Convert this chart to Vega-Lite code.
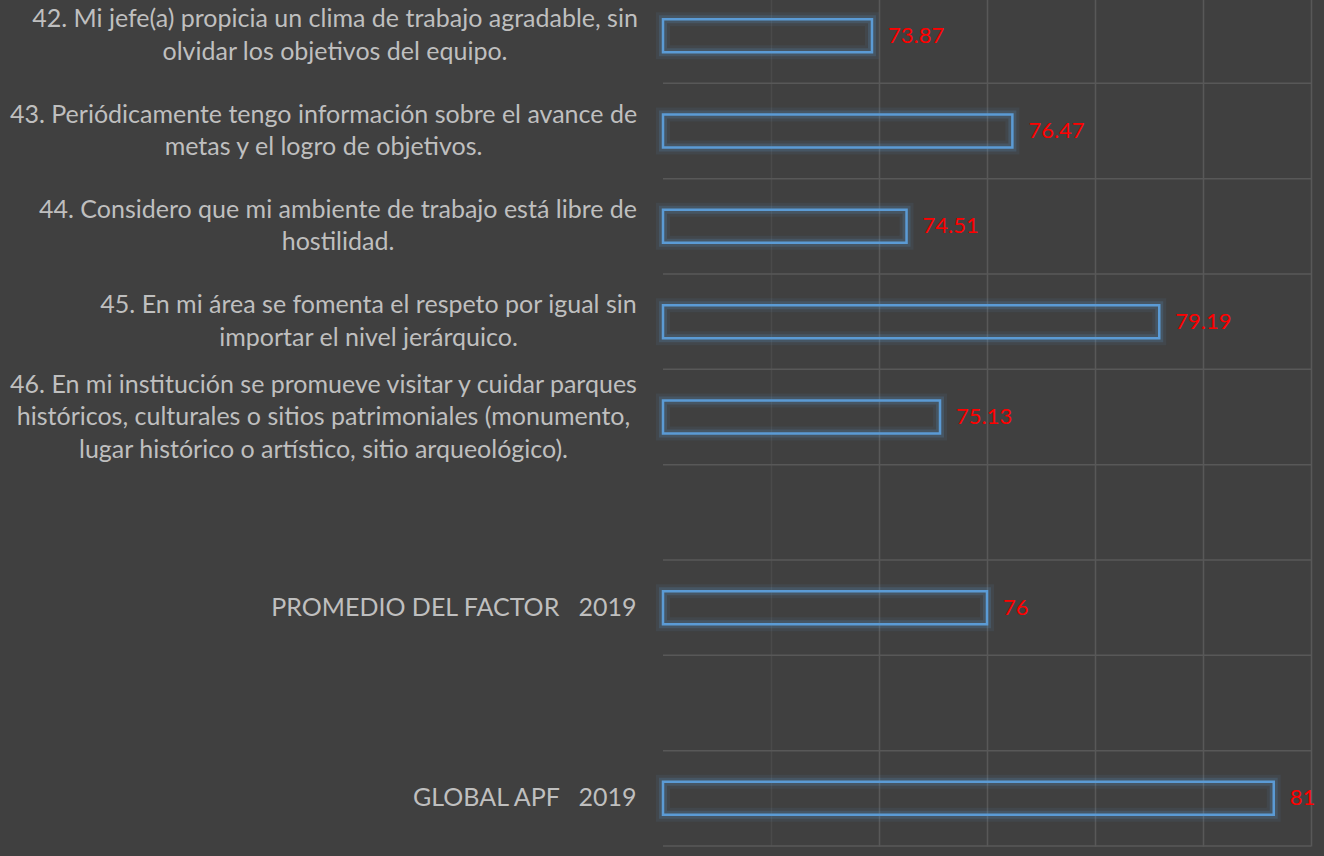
{
  "$schema": "https://vega.github.io/schema/vega-lite/v6.json",
  "width": 648,
  "height": 858,
  "autosize": {"type": "none"},
  "padding": {"left": 663, "top": -12, "right": 13, "bottom": 10},
  "background": "#404040",
  "config": {
    "view": {"stroke": null},
    "font": "Lato"
  },
  "data": {
    "values": [
      {"item": "42. Mi jefe(a) propicia un clima de trabajo agradable, sin|olvidar los objetivos del equipo.", "value": 73.87, "label": "73.87"},
      {"item": "43. Periódicamente tengo información sobre el avance de|metas y el logro de objetivos.", "value": 76.47, "label": "76.47"},
      {"item": "44. Considero que mi ambiente de trabajo está libre de|hostilidad.", "value": 74.51, "label": "74.51"},
      {"item": "45. En mi área se fomenta el respeto por igual sin|importar el nivel jerárquico.", "value": 79.19, "label": "79.19"},
      {"item": "46. En mi institución se promueve visitar y cuidar parques|históricos, culturales o sitios patrimoniales (monumento,|lugar histórico o artístico, sitio arqueológico).", "value": 75.13, "label": "75.13"},
      {"item": " ", "value": null, "label": null},
      {"item": "PROMEDIO DEL FACTOR\u00a0\u00a0\u00a02019", "value": 76.0, "label": "76"},
      {"item": "  ", "value": null, "label": null},
      {"item": "GLOBAL APF\u00a0\u00a0\u00a02019", "value": 81.31, "label": "81"}
    ]
  },
  "encoding": {
    "y": {
      "field": "item",
      "type": "nominal",
      "sort": null,
      "scale": {
        "domain": [
          "42. Mi jefe(a) propicia un clima de trabajo agradable, sin|olvidar los objetivos del equipo.",
          "43. Periódicamente tengo información sobre el avance de|metas y el logro de objetivos.",
          "44. Considero que mi ambiente de trabajo está libre de|hostilidad.",
          "45. En mi área se fomenta el respeto por igual sin|importar el nivel jerárquico.",
          "46. En mi institución se promueve visitar y cuidar parques|históricos, culturales o sitios patrimoniales (monumento,|lugar histórico o artístico, sitio arqueológico).",
          " ",
          "PROMEDIO DEL FACTOR\u00a0\u00a0\u00a02019",
          "  ",
          "GLOBAL APF\u00a0\u00a0\u00a02019"
        ],
        "paddingInner": 0,
        "paddingOuter": 0
      },
      "axis": {
        "title": null,
        "labelExpr": "split(datum.value, '|')",
        "labelAlign": {"condition": {"test": "substring(datum.value, 0, 1) === '4'", "value": "center"}, "value": "right"},
        "labelBaseline": "middle",
        "labelOffset": {"condition": [
          {"test": "substring(datum.value, 0, 3) === '46.'", "value": -32.5},
          {"test": "substring(datum.value, 0, 1) === '4'", "value": -16.5}
        ], "value": 0},
        "labelPadding": {"condition": [
          {"test": "substring(datum.value, 0, 3) === '42.'", "value": 328.5},
          {"test": "substring(datum.value, 0, 3) === '43.'", "value": 340},
          {"test": "substring(datum.value, 0, 3) === '44.'", "value": 325.5},
          {"test": "substring(datum.value, 0, 3) === '45.'", "value": 295},
          {"test": "substring(datum.value, 0, 3) === '46.'", "value": 340}
        ], "value": 27},
        "ticks": false,
        "tickSize": 0,
        "domain": false,
        "grid": false,
        "labelFont": "Lato",
        "labelFontSize": 25,
        "labelColor": "#BFBFBF",
        "labelLineHeight": 32.5,
        "labelLimit": 800,
        "labelOverlap": false,
        "labelBound": false
      }
    }
  },
  "layer": [
    {
      "mark": {"type": "rule", "color": "#585858", "strokeWidth": 1.5},
      "encoding": {
        "y": {"field": "item", "type": "nominal", "bandPosition": 1, "sort": null}
      }
    },
    {
      "transform": [{"filter": "isValid(datum.value)"}],
      "encoding": {
        "x": {
          "field": "value",
          "type": "quantitative",
          "scale": {"domain": [70, 82], "nice": false, "zero": false},
          "axis": {
            "title": null,
            "values": [72, 74, 76, 78, 80, 82],
            "grid": true,
            "gridColor": {"condition": {"test": "datum.value === 72", "value": "#4A4A4A"}, "value": "#585858"},
            "gridWidth": 1.5,
            "labels": false,
            "ticks": false,
            "domain": false
          }
        }
      },
      "layer": [
        {
          "mark": {"type": "bar", "size": 33, "fill": "transparent", "stroke": "#5B9BD5", "strokeWidth": 14, "strokeOpacity": 0.08},
          "encoding": {"x2": {"datum": 70}}
        },
        {
          "mark": {"type": "bar", "size": 33, "fill": "transparent", "stroke": "#5B9BD5", "strokeWidth": 8, "strokeOpacity": 0.18},
          "encoding": {"x2": {"datum": 70}}
        },
        {
          "mark": {"type": "bar", "size": 33, "fill": "transparent", "stroke": "#5B9BD5", "strokeWidth": 2.5},
          "encoding": {"x2": {"datum": 70}}
        },
        {
          "mark": {"type": "text", "align": "left", "baseline": "middle", "dx": 16, "font": "Lato", "fontSize": 22, "color": "#FF0000"},
          "encoding": {
            "text": {"field": "label"}
          }
        }
      ]
    }
  ]
}
